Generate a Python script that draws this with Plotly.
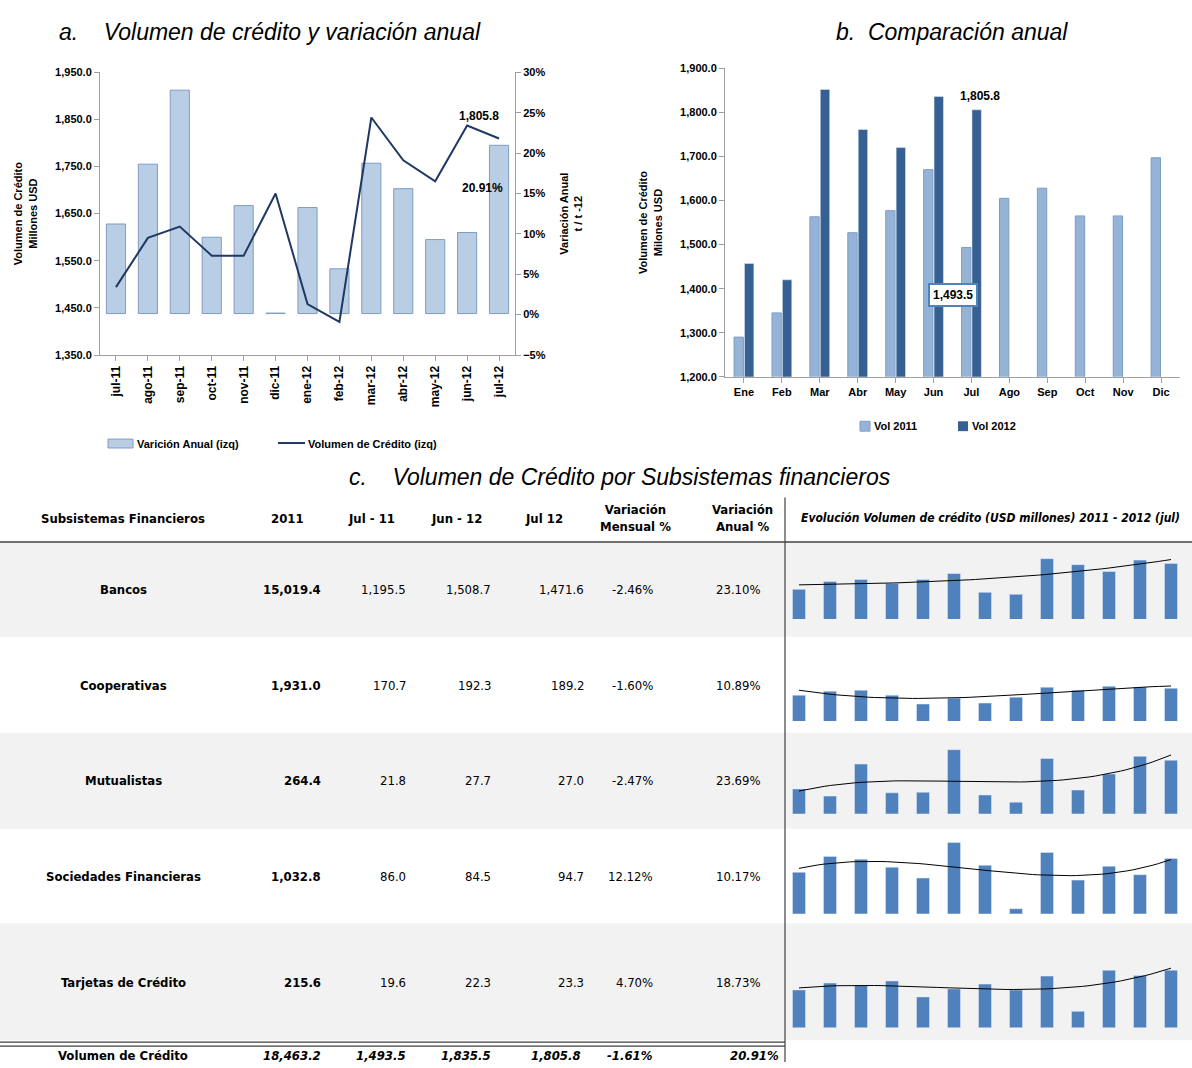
import numpy as np
import plotly.graph_objects as go

W, H = 1192, 1068

def px(x):
    return x / W

def py(y):
    return 1 - y / H

# ---------------- data -------------------------------------------------------
meses_a = ["jul-11", "ago-11", "sep-11", "oct-11", "nov-11", "dic-11", "ene-12",
           "feb-12", "mar-12", "abr-12", "may-12", "jun-12", "jul-12"]
barras_a = [1628, 1755, 1912, 1600, 1667, 1439, 1663, 1533, 1757, 1703, 1595, 1610, 1795]
base_a = 1438
linea_a = [3.4, 9.5, 10.9, 7.3, 7.3, 15.0, 1.3, -0.9, 24.4, 19.1, 16.5, 23.4, 21.8]

meses_b = ["Ene", "Feb", "Mar", "Abr", "May", "Jun", "Jul", "Ago", "Sep", "Oct", "Nov", "Dic"]
vol_2011 = [1290, 1345, 1563, 1527, 1577, 1670, 1493.5, 1605, 1628, 1565, 1565, 1697]
vol_2012 = [1457, 1420, 1852, 1761, 1720, 1836, 1805.8]

subsistemas = ["Bancos", "Cooperativas", "Mutualistas", "Sociedades Financieras", "Tarjetas de Crédito"]
col_2011 = ["15,019.4", "1,931.0", "264.4", "1,032.8", "215.6"]
col_jul11 = ["1,195.5", "170.7", "21.8", "86.0", "19.6"]
col_jun12 = ["1,508.7", "192.3", "27.7", "84.5", "22.3"]
col_jul12 = ["1,471.6", "189.2", "27.0", "94.7", "23.3"]
col_mens = ["-2.46%", "-1.60%", "-2.47%", "12.12%", "4.70%"]
col_anual = ["23.10%", "10.89%", "23.69%", "10.17%", "18.73%"]
total = ["18,463.2", "1,493.5", "1,835.5", "1,805.8", "-1.61%", "20.91%"]

spark = [
    [1195, 1280, 1301, 1259, 1301, 1365, 1163, 1142, 1524, 1460, 1386, 1508.7, 1471.6],
    [170.7, 181.3, 183.9, 170.7, 146.9, 162.7, 149.5, 165.4, 191.8, 183.9, 194.5, 192.3, 189.2],
    [21.8, 20.5, 26.3, 21.1, 21.2, 28.9, 20.7, 19.4, 27.3, 21.6, 24.5, 27.7, 27.0],
    [86.0, 96.0, 94.2, 89.2, 82.4, 104.7, 90.4, 63.1, 98.5, 81.1, 89.8, 84.5, 94.7],
    [19.6, 20.9, 20.5, 21.3, 18.3, 19.8, 20.7, 19.6, 22.2, 15.6, 23.3, 22.3, 23.3],
]
spark_rango = [[877, 1725], [101.9, 313.5], [17.3, 31.6], [60, 109.7], [12.6, 27.4]]

# ---------------- figure ----------------------------------------------------
FONT = "Liberation Sans"
NARROW = "DejaVu Sans Condensed, Liberation Sans Narrow, Liberation Sans"
fig = go.Figure()

# chart a
fig.add_trace(go.Bar(x=meses_a, y=[b - base_a for b in barras_a], base=base_a,
                     marker=dict(color="#b9cde5", line=dict(color="#7f9cc4", width=1)),
                     width=0.6, xaxis="x", yaxis="y"))
fig.add_trace(go.Scatter(x=meses_a, y=linea_a, mode="lines",
                         line=dict(color="#1f3864", width=2), xaxis="x", yaxis="y2"))

# chart b
fig.add_trace(go.Bar(x=meses_b, y=vol_2011, marker=dict(color="#95b3d7", line=dict(color="#7f9cc4", width=1)),
                     xaxis="x3", yaxis="y3"))
fig.add_trace(go.Bar(x=meses_b[:len(vol_2012)], y=vol_2012, marker=dict(color="#366092"),
                     xaxis="x3", yaxis="y3"))

axcommon = dict(showgrid=False, zeroline=False, linecolor="#a0a0a0", ticks="outside",
                tickcolor="#a0a0a0", tickfont=dict(family=FONT, size=11, color="black"))
titfont = dict(family=FONT, size=11, color="black")
layout = dict(
    width=W, height=H, margin=dict(l=0, r=0, t=0, b=0),
    paper_bgcolor="white", plot_bgcolor="white", showlegend=False,
    barmode="group", bargap=0.45, bargroupgap=0.1,
    xaxis=dict(domain=[px(100), px(515)], anchor="y", tickangle=-90, **axcommon),
    yaxis=dict(domain=[py(353), py(67)], range=[1350, 1950], tick0=1350, dtick=100, tickformat=",.1f",
               tickprefix="<b>", ticksuffix="</b>",
               title=dict(text="<b>Volumen de Crédito<br>Millones USD</b>", font=titfont),
               **axcommon),
    yaxis2=dict(domain=[py(353), py(67)], range=[-5, 30], dtick=5, tickprefix="<b>", ticksuffix="%</b>",
                overlaying="y", side="right", anchor="x",
                title=dict(text="<b>Variación Anual<br>t / t -12</b>", font=titfont),
                **axcommon),
    xaxis3=dict(domain=[px(725), px(1180)], anchor="y3", tickprefix="<b>", ticksuffix="</b>", **axcommon),
    yaxis3=dict(domain=[py(375), py(63)], range=[1200, 1900], dtick=100, tickformat=",.1f", anchor="x3",
                tickprefix="<b>", ticksuffix="</b>",
                title=dict(text="<b>Volumen de Crédito<br>Milones USD</b>", font=titfont),
                **axcommon),
)
layout["xaxis"]["tickfont"] = dict(family=FONT, size=12, color="black")
layout["xaxis"]["tickprefix"] = "<b>"
layout["xaxis"]["ticksuffix"] = "</b>"

# sparklines
bottoms = [620, 723, 817, 918, 1033]
for i, vals in enumerate(spark):
    n = i + 4
    fig.add_trace(go.Bar(x=list(range(13)), y=vals, marker_color="#4f81bd", width=0.42,
                         xaxis=f"x{n}", yaxis=f"y{n}"))
    coef = np.polyfit(range(13), vals, 3)
    xs = np.linspace(0, 12, 60)
    fig.add_trace(go.Scatter(x=xs, y=np.polyval(coef, xs), mode="lines",
                             line=dict(color="black", width=1), xaxis=f"x{n}", yaxis=f"y{n}"))
    layout[f"xaxis{n}"] = dict(domain=[px(783.5), px(1186.5)], range=[-0.5, 12.5], visible=False,
                               anchor=f"y{n}")
    layout[f"yaxis{n}"] = dict(domain=[py(bottoms[i]), py(bottoms[i] - 80)], range=spark_rango[i],
                               visible=False, anchor=f"x{n}")
fig.update_layout(**layout)

ann = []

def txt(x, y, t, size=12, xa="center", family=FONT, **kw):
    ann.append(dict(x=px(x), y=py(y), xref="paper", yref="paper", text=t, showarrow=False,
                    xanchor=xa, yanchor="middle", font=dict(family=family, size=size, color="black"), **kw))

# titles
txt(57, 26, "<i>a.    Volumen de crédito y variación anual</i>", 23, "left")
txt(952, 26, "<i>b.  Comparación anual</i>", 23)
txt(620, 476, "<i>c.    Volumen de Crédito por Subsistemas financieros</i>", 23)

# chart a labels and legend
txt(479, 111, "<b>1,805.8</b>", 12)
txt(482, 184, "<b>20.91%</b>", 12)
shapes = [
    dict(type="rect", xref="paper", yref="paper", x0=px(108), x1=px(133), y0=py(447), y1=py(438),
         fillcolor="#b9cde5", line=dict(color="#7f9cc4", width=1)),
    dict(type="line", xref="paper", yref="paper", x0=px(278), x1=px(305), y0=py(442), y1=py(442),
         line=dict(color="#1f3864", width=2)),
    dict(type="rect", xref="paper", yref="paper", x0=px(860), x1=px(870), y0=py(430), y1=py(420),
         fillcolor="#95b3d7", line=dict(color="#7f9cc4", width=1)),
    dict(type="rect", xref="paper", yref="paper", x0=px(958), x1=px(968), y0=py(430), y1=py(420),
         fillcolor="#366092", line=dict(width=0)),
]
txt(135, 443, "<b>Varición Anual (izq)</b>", 11, "left")
txt(306, 443, "<b>Volumen de Crédito (izq)</b>", 11, "left")
txt(872, 425, "<b>Vol 2011</b>", 11, "left")
txt(970, 425, "<b>Vol 2012</b>", 11, "left")
txt(980, 91, "<b>1,805.8</b>", 12)
txt(953, 292, "<b>1,493.5</b>", 12, bordercolor="#4f81bd", borderwidth=2, bgcolor="white", borderpad=3)

# table backgrounds and lines
for top, bot in [(543, 638), (735, 832), (928, 1046)]:
    shapes.append(dict(type="rect", xref="paper", yref="paper", x0=0, x1=1, y0=py(bot), y1=py(top),
                       fillcolor="#f2f2f2", line=dict(width=0), layer="below"))
shapes.append(dict(type="line", xref="paper", yref="paper", x0=0, x1=1, y0=py(542), y1=py(542),
                   line=dict(color="#404040", width=1.5)))
for yy in (1048, 1052):
    shapes.append(dict(type="line", xref="paper", yref="paper", x0=0, x1=px(785), y0=py(yy), y1=py(yy),
                       line=dict(color="#404040", width=1.2)))
shapes.append(dict(type="line", xref="paper", yref="paper", x0=px(785), x1=px(785), y0=0, y1=py(497),
                   line=dict(color="#404040", width=1.2)))
fig.update_layout(shapes=shapes)

# headers
hs = 13
txt(123, 518, "<b>Subsistemas Financieros</b>", hs, family=NARROW)
txt(287, 518, "<b>2011</b>", hs, family=NARROW)
txt(371, 518, "<b>Jul - 11</b>", hs, family=NARROW)
txt(456, 518, "<b>Jun - 12</b>", hs, family=NARROW)
txt(544, 518, "<b>Jul 12</b>", hs, family=NARROW)
txt(635, 518, "<b>Variación<br>Mensual %</b>", hs, family=NARROW)
txt(742, 518, "<b>Variación<br>Anual %</b>", hs, family=NARROW)
txt(990, 518, "<b><i>Evolución Volumen de crédito (USD millones) 2011 - 2012 (jul)</i></b>", 12, family=NARROW)

rows_y = [590, 687, 783, 880, 988]
for i, name in enumerate(subsistemas):
    y = rows_y[i]
    txt(123, y, f"<b>{name}</b>", hs, family=NARROW)
    txt(323, y, f"<b>{col_2011[i]}</b>", hs, "right", family=NARROW)
    txt(408, y, col_jul11[i], hs, "right", family=NARROW)
    txt(493, y, col_jun12[i], hs, "right", family=NARROW)
    txt(586, y, col_jul12[i], hs, "right", family=NARROW)
    txt(655, y, col_mens[i], hs, "right", family=NARROW)
    txt(763, y, col_anual[i], hs, "right", family=NARROW)

ty = 1061
txt(123, ty, "<b>Volumen de Crédito</b>", hs, family=NARROW)
for xr, v in zip([323, 408, 493, 583, 655, 781], total):
    txt(xr, ty, f"<b><i>{v}</i></b>", hs, "right", family=NARROW)

fig.update_layout(annotations=ann)
fig.write_html("out.html", config={"displayModeBar": False},
               post_script="document.body.style.margin='0';document.body.style.overflow='hidden';")
